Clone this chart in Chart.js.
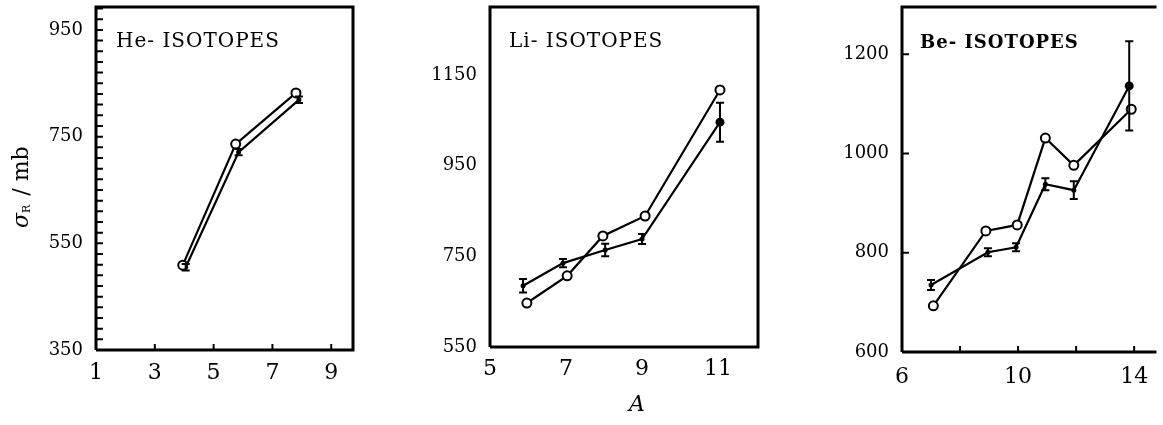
<!DOCTYPE html>
<html>
<head>
<meta charset="utf-8">
<title>Reaction cross sections of He, Li, Be isotopes</title>
<script src="https://cdn.jsdelivr.net/npm/chart.js@4.4.0/dist/chart.umd.min.js"></script>
<style>
  html, body { margin: 0; padding: 0; background: #fff; }
  #wrap { position: relative; width: 1163px; height: 425px; overflow: hidden; background: #fff; }
  canvas { position: absolute; top: 0; }
</style>
</head>
<body>
<div id="wrap">
  <canvas id="heChart" width="380" height="425" style="left:0"></canvas>
  <canvas id="liChart" width="400" height="425" style="left:380px"></canvas>
  <canvas id="beChart" width="383" height="425" style="left:780px"></canvas>
</div>
<script>
// ---- He isotopes ----
const heCalcA = [3.95, 5.75, 7.8];
const heCalcSigma = [509, 736, 832];
const heExpA = [4.05, 5.85, 7.9];
const heExpSigma = [505, 721, 819];
const heExpErr = [6, 6, 6];
const heXTicks = [1, 3, 5, 7, 9];
const heYTicks = [350, 550, 750, 950];

// ---- Li isotopes ----
const liCalcA = [5.97, 7.03, 7.97, 9.08, 11.05];
const liCalcSigma = [647, 707, 795, 839, 1117];
const liExpA = [5.87, 6.92, 8.03, 9.0, 11.05];
const liExpSigma = [685, 735, 764, 788, 1046];
const liExpErr = [15, 9, 14, 11, 43];
const liXTicks = [5, 7, 9, 11];
const liYTicks = [550, 750, 950, 1150];

// ---- Be isotopes ----
const beCalcA = [7.08, 8.89, 9.97, 10.94, 11.92, 13.9];
const beCalcSigma = [693, 844, 856, 1031, 976, 1089];
const beExpA = [7.0, 8.96, 9.93, 10.94, 11.92, 13.83];
const beExpSigma = [735, 801, 811, 938, 926, 1136];
const beExpErr = [10, 8, 8, 12, 18, 90];
const beXTicks = [6, 10, 14];
const beYTicks = [600, 800, 1000, 1200];

const INK = '#000';
const SERIF = '"DejaVu Serif", "Liberation Serif", serif';

// draws the frame, inward tick marks, panel caption, error bars
function decorPlugin(p) {
  return {
    id: 'decor_' + p.id,
    afterDatasetsDraw(chart) {
      const ctx = chart.ctx;
      const xs = chart.scales.x, ys = chart.scales.y;
      const exp = chart.data.datasets[1];
      ctx.save();
      ctx.strokeStyle = INK;
      ctx.lineWidth = 2;
      exp.data.forEach((pt, i) => {
        const e = exp.errors[i];
        const x = xs.getPixelForValue(pt.x);
        const y1 = ys.getPixelForValue(pt.y + e);
        const y2 = ys.getPixelForValue(pt.y - e);
        ctx.beginPath();
        ctx.moveTo(x, y1); ctx.lineTo(x, y2);
        ctx.moveTo(x - 4, y1); ctx.lineTo(x + 4, y1);
        ctx.moveTo(x - 4, y2); ctx.lineTo(x + 4, y2);
        ctx.stroke();
      });
      ctx.restore();
    },
    afterDraw(chart) {
      const ctx = chart.ctx;
      const a = chart.chartArea;
      const xs = chart.scales.x, ys = chart.scales.y;
      ctx.save();
      ctx.strokeStyle = INK;
      ctx.fillStyle = INK;

      // frame
      ctx.lineWidth = 3;
      ctx.beginPath();
      ctx.moveTo(a.left, a.bottom);
      ctx.lineTo(a.left, a.top);
      ctx.lineTo(a.right, a.top);
      if (p.rightBorder) ctx.lineTo(a.right, a.bottom);
      else ctx.moveTo(a.right, a.bottom);
      ctx.lineTo(a.left, a.bottom);
      ctx.stroke();

      // inward ticks
      ctx.lineWidth = 2;
      ctx.beginPath();
      (p.yMarks || []).forEach(v => {
        const y = ys.getPixelForValue(v);
        ctx.moveTo(a.left, y); ctx.lineTo(a.left + 7, y);
      });
      (p.xMarks || []).forEach(v => {
        const x = xs.getPixelForValue(v);
        ctx.moveTo(x, a.bottom); ctx.lineTo(x, a.bottom - 6);
      });
      ctx.stroke();

      // caption inside the frame
      ctx.font = p.captionFont;
      ctx.letterSpacing = p.captionSpacing;
      ctx.textBaseline = 'middle';
      ctx.textAlign = 'left';
      ctx.fillText(p.caption, a.left + p.captionDx, p.captionY);
      ctx.letterSpacing = '0px';

      // y-axis title (first panel only)
      if (p.yTitle) {
        ctx.translate(22, 228);
        ctx.rotate(-Math.PI / 2);
        ctx.textBaseline = 'middle';
        ctx.font = 'italic 22px ' + SERIF;
        ctx.fillText('σ', 0, 0);
        let w = ctx.measureText('σ').width;
        ctx.font = '11px ' + SERIF;
        ctx.fillText('R', w, 5);
        w += ctx.measureText('R').width + 2;
        ctx.font = '22px ' + SERIF;
        ctx.fillText(' / mb', w, 0);
      }

      // x-axis title (middle panel only)
      if (p.xTitle) {
        ctx.font = 'italic 22px ' + SERIF;
        ctx.textAlign = 'center';
        ctx.fillText('A', 257, 405);
      }
      ctx.restore();
    }
  };
}

function makePanel(p) {
  const calcPts = p.calcA.map((v, i) => ({ x: v, y: p.calcY[i] }));
  const expPts = p.expA.map((v, i) => ({ x: v, y: p.expY[i] }));
  return new Chart(document.getElementById(p.id), {
    type: 'line',
    data: {
      datasets: [
        {
          label: 'calculated',
          data: calcPts,
          borderColor: INK,
          borderWidth: 2.2,
          pointRadius: 4.5,
          pointBorderWidth: 2,
          pointBackgroundColor: '#fff',
          pointBorderColor: INK,
          tension: 0,
          order: 0
        },
        {
          label: 'experimental',
          data: expPts,
          errors: p.expErr,
          borderColor: INK,
          borderWidth: 2.2,
          pointRadius: p.expRadius,
          pointBorderWidth: 0,
          pointBackgroundColor: INK,
          tension: 0,
          order: 1
        }
      ]
    },
    options: {
      responsive: false,
      animation: false,
      layout: { padding: { left: 0, top: 7, right: p.padRight, bottom: 0 } },
      plugins: { legend: { display: false }, tooltip: { enabled: false } },
      scales: {
        x: {
          type: 'linear',
          min: p.xMin,
          max: p.xMax,
          grid: { display: false, drawTicks: false },
          border: { display: false },
          ticks: {
            color: INK, font: { family: SERIF, size: 22 }, padding: p.xPad, maxRotation: 0,
            callback: v => String(v)
          },
          afterBuildTicks: s => { s.ticks = p.xTicks.map(v => ({ value: v })); },
          afterFit: s => { s.height = p.xHeight; s.paddingLeft = 0; s.paddingRight = 0; }
        },
        y: {
          type: 'linear',
          min: p.yMin,
          max: p.yMax,
          grid: { display: false, drawTicks: false },
          border: { display: false },
          ticks: {
            color: INK, font: { family: SERIF, size: 18 }, padding: 13,
            callback: v => String(v)
          },
          afterBuildTicks: s => { s.ticks = p.yTicks.map(v => ({ value: v })); },
          afterFit: s => { s.width = p.yWidth; s.paddingTop = 0; s.paddingBottom = 0; }
        }
      }
    },
    plugins: [decorPlugin(p)]
  });
}

// minor marks along the He y axis every 20 mb
const heYMarks = [];
for (let v = 370; v <= 990; v += 20) heYMarks.push(v);

makePanel({
  id: 'heChart',
  calcA: heCalcA, calcY: heCalcSigma,
  expA: heExpA, expY: heExpSigma, expErr: heExpErr, expRadius: 2.5,
  xMin: 1, xMax: 9.74, yMin: 350, yMax: 993,
  xTicks: heXTicks, yTicks: heYTicks,
  xMarks: [3, 5, 7, 9], yMarks: heYMarks,
  yWidth: 96, xHeight: 75, padRight: 27, xPad: 10,
  rightBorder: true,
  caption: 'He- ISOTOPES', captionFont: '20px ' + SERIF, captionSpacing: '1px',
  captionDx: 20, captionY: 42,
  yTitle: true
});

makePanel({
  id: 'liChart',
  calcA: liCalcA, calcY: liCalcSigma,
  expA: liExpA, expY: liExpSigma, expErr: liExpErr, expRadius: [2.5, 2.5, 2.5, 2.5, 4.5],
  xMin: 5, xMax: 12.05, yMin: 550, yMax: 1300,
  xTicks: liXTicks, yTicks: liYTicks,
  xMarks: [], yMarks: [],
  yWidth: 110, xHeight: 78, padRight: 22, xPad: 9,
  rightBorder: true,
  caption: 'Li- ISOTOPES', captionFont: '20px ' + SERIF, captionSpacing: '1px',
  captionDx: 19, captionY: 42,
  xTitle: true
});

makePanel({
  id: 'beChart',
  calcA: beCalcA, calcY: beCalcSigma,
  expA: beExpA, expY: beExpSigma, expErr: beExpErr, expRadius: [2.5, 2.5, 2.5, 2.5, 2.5, 4.5],
  xMin: 6, xMax: 14.77, yMin: 600, yMax: 1295,
  xTicks: beXTicks, yTicks: beYTicks,
  xMarks: [8, 10, 12, 14], yMarks: [800, 1000, 1200],
  yWidth: 122, xHeight: 73, padRight: 0, xPad: 12,
  rightBorder: false,
  caption: 'Be- ISOTOPES', captionFont: 'bold 18px ' + SERIF, captionSpacing: '1px',
  captionDx: 18, captionY: 43
});
</script>
</body>
</html>
